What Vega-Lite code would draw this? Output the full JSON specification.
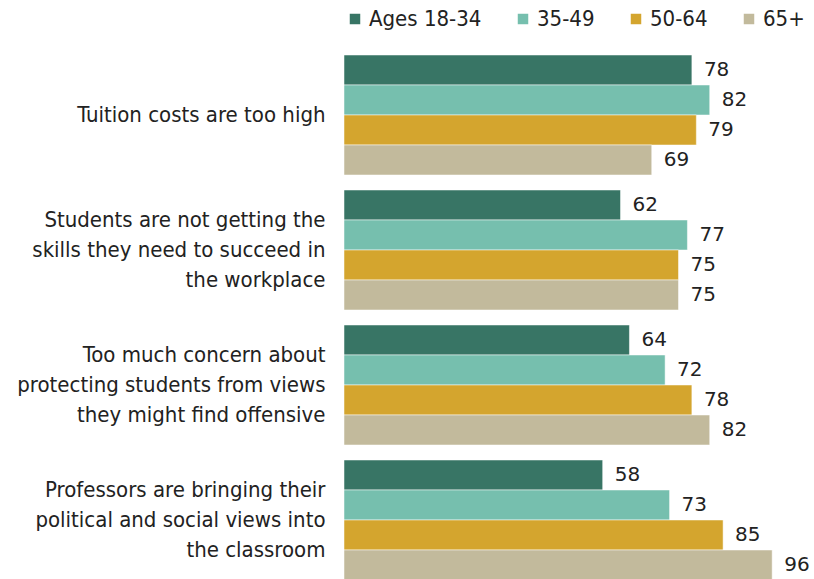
{
  "$schema": "https://vega.github.io/schema/vega-lite/v6.json",
  "autosize": "none",
  "width": 446,
  "height": 525,
  "padding": {"left": 344, "top": 55, "right": 24, "bottom": 0},
  "background": "white",
  "config": {"view": {"stroke": null}, "font": "DejaVu Sans Condensed"},
  "data": {"values": [
    {"item": "Tuition costs are too  high", "age": "Ages 18-34", "value": 78},
    {"item": "Tuition costs are too  high", "age": "35-49", "value": 82},
    {"item": "Tuition costs are too  high", "age": "50-64", "value": 79},
    {"item": "Tuition costs are too  high", "age": "65+", "value": 69},
    {"item": "Students are not getting the|skills they need to succeed in|the workplace", "age": "Ages 18-34", "value": 62},
    {"item": "Students are not getting the|skills they need to succeed in|the workplace", "age": "35-49", "value": 77},
    {"item": "Students are not getting the|skills they need to succeed in|the workplace", "age": "50-64", "value": 75},
    {"item": "Students are not getting the|skills they need to succeed in|the workplace", "age": "65+", "value": 75},
    {"item": "Too much concern about|protecting students from views|they might find offensive", "age": "Ages 18-34", "value": 64},
    {"item": "Too much concern about|protecting students from views|they might find offensive", "age": "35-49", "value": 72},
    {"item": "Too much concern about|protecting students from views|they might find offensive", "age": "50-64", "value": 78},
    {"item": "Too much concern about|protecting students from views|they might find offensive", "age": "65+", "value": 82},
    {"item": "Professors are bringing their|political and  social views into|the classroom", "age": "Ages 18-34", "value": 58},
    {"item": "Professors are bringing their|political and  social views into|the classroom", "age": "35-49", "value": 73},
    {"item": "Professors are bringing their|political and  social views into|the classroom", "age": "50-64", "value": 85},
    {"item": "Professors are bringing their|political and  social views into|the classroom", "age": "65+", "value": 96}
  ]},
  "encoding": {
    "y": {
      "field": "item", "type": "nominal", "sort": null, "title": null,
      "scale": {"paddingInner": 0.111, "paddingOuter": 0},
      "axis": {
        "domain": false, "ticks": false, "labelPadding": 19,
        "labelFontSize": 22, "labelColor": "#222", "labelLineHeight": 30,
        "labelLimit": 344,
        "labelOffset": {"expr": "indexof(datum.label, '|') >= 0 ? -30 : 0"},
        "labelExpr": "split(datum.label, '|')"
      }
    },
    "yOffset": {
      "field": "age", "type": "nominal",
      "sort": ["Ages 18-34", "35-49", "50-64", "65+"],
      "scale": {"paddingInner": 0, "paddingOuter": 0}
    },
    "x": {
      "field": "value", "type": "quantitative",
      "scale": {"domain": [0, 100], "nice": false},
      "axis": null
    }
  },
  "layer": [
    {
      "mark": {"type": "bar", "stroke": "white", "strokeWidth": 0.5},
      "encoding": {
        "color": {
          "field": "age", "type": "nominal",
          "sort": ["Ages 18-34", "35-49", "50-64", "65+"],
          "scale": {"domain": ["Ages 18-34", "35-49", "50-64", "65+"],
                    "range": ["#387565", "#76bfae", "#d4a52e", "#c2ba9c"]},
          "legend": {
            "title": null, "orient": "none", "direction": "horizontal",
            "legendX": 0, "legendY": -47,
            "symbolType": "square", "symbolSize": 110, "symbolStrokeWidth": 0,
            "labelFontSize": 22, "labelColor": "#222", "columnPadding": 30,
            "labelOffset": 3
          }
        }
      }
    },
    {
      "mark": {"type": "text", "align": "left", "baseline": "middle", "dx": 12, "fontSize": 20, "font": "DejaVu Sans", "color": "#222"},
      "encoding": {"text": {"field": "value", "type": "quantitative"}}
    }
  ]
}
